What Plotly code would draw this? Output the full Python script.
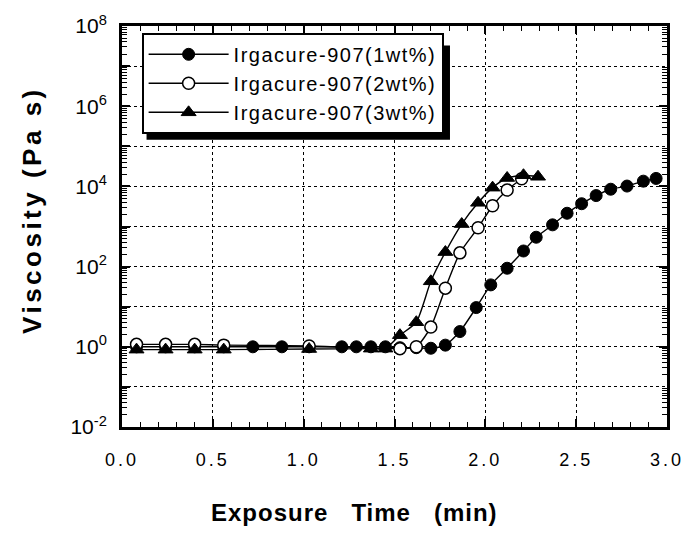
import numpy as np
import plotly.graph_objects as go

# Exposure time (min) and viscosity (Pa s)
t_1wt = [0.08, 0.24, 0.40, 0.56, 0.72, 0.88, 1.03, 1.21, 1.29, 1.37, 1.45, 1.53, 1.62,
         1.70, 1.78, 1.86, 1.95, 2.03, 2.12, 2.21, 2.28, 2.37, 2.45, 2.53, 2.61,
         2.69, 2.78, 2.87, 2.94]
v_1wt = [1.0, 1.0, 1.0, 1.0, 1.0, 1.0, 1.0, 1.0, 1.0, 1.0, 1.0, 0.95, 0.95,
         0.92, 1.1, 2.4, 9.5, 35, 91, 245, 540, 1100, 2140, 3700, 5900,
         8500, 10200, 13500, 15800]

t_2wt = [0.08, 0.24, 0.40, 0.56, 1.03, 1.53, 1.62, 1.70, 1.78, 1.86, 1.96, 2.04, 2.12, 2.20]
v_2wt = [1.15, 1.15, 1.15, 1.1, 1.05, 0.9, 1.0, 3.1, 29, 220, 930, 3300, 8100, 15500]

t_3wt = [0.08, 0.24, 0.40, 0.56, 1.03, 1.37, 1.45, 1.53, 1.62, 1.70, 1.78, 1.87,
         1.96, 2.04, 2.12, 2.21, 2.29]
v_3wt = [0.85, 0.85, 0.85, 0.85, 0.88, 0.9, 0.9, 1.95, 4.1, 43, 230, 1150,
         3900, 9300, 16200, 19000, 17400]

series_names = ["Irgacure-907(1wt%)", "Irgacure-907(2wt%)", "Irgacure-907(3wt%)"]

x_ticks = [0.0, 0.5, 1.0, 1.5, 2.0, 2.5, 3.0]
x_ticklabels = ["0.0", "0.5", "1.0", "1.5", "2.0", "2.5", "3.0"]
y_label_exponents = [-2, 0, 2, 4, 6, 8]
y_ticklabels = ["10<sup>-2</sup>", "10<sup>0</sup>", "10<sup>2</sup>",
                "10<sup>4</sup>", "10<sup>6</sup>", "10<sup>8</sup>"]
y_grid_only_exponents = [-1, 1, 3, 5, 7]

x_title = "Exposure\u00a0\u00a0\u00a0Time\u00a0\u00a0\u00a0(min)"
y_title = "Viscosity\u00a0(Pa\u00a0s)"

FONT = "Liberation Sans, Arial, sans-serif"


def spaced(text, px):
    return f"<span style='letter-spacing:{px}px'>{text}</span>"


fig = go.Figure()
line_style = dict(color="black", width=1.4, shape="spline", smoothing=0.6)
fig.add_trace(go.Scatter(x=t_1wt, y=v_1wt, mode="lines+markers", name=spaced(series_names[0], 1.5),
                         line=line_style,
                         marker=dict(symbol="circle", size=12, color="black",
                                     line=dict(color="black", width=1))))
fig.add_trace(go.Scatter(x=t_2wt, y=v_2wt, mode="lines+markers", name=spaced(series_names[1], 1.5),
                         line=line_style,
                         marker=dict(symbol="circle", size=12, color="white",
                                     line=dict(color="black", width=1.5))))
fig.add_trace(go.Scatter(x=t_3wt, y=v_3wt, mode="lines+markers", name=spaced(series_names[2], 1.5),
                         line=line_style,
                         marker=dict(symbol="triangle-up", size=13, color="black",
                                     line=dict(color="black", width=1))))

minor_y = [m * 10.0 ** e for e in range(-2, 8) for m in range(2, 10)]
grid_style = dict(showgrid=True, gridcolor="black", gridwidth=1.3, griddash="dot")

fig.update_xaxes(
    range=[0, 3], tickvals=x_ticks, ticktext=[spaced(s, 3) for s in x_ticklabels],
    showline=True, linecolor="black", linewidth=3, mirror="ticks",
    ticks="inside", ticklen=8, tickwidth=1.5, tickcolor="black",
    minor=dict(dtick=0.1, ticks="inside", ticklen=5, tickwidth=1.2, tickcolor="black", showgrid=False),
    zeroline=False, ticklabelstandoff=14,
    tickfont=dict(family=FONT, size=18, color="black"),
    **grid_style,
)
fig.update_layout(
    yaxis=dict(
        type="log", range=[-2, 8],
        tickvals=[10.0 ** e for e in y_label_exponents], ticktext=y_ticklabels,
        showline=True, linecolor="black", linewidth=3, mirror="ticks",
        ticks="inside", ticklen=8, tickwidth=1.5, tickcolor="black",
        minor=dict(tickvals=minor_y, ticks="inside", ticklen=5, tickwidth=1.2,
                   tickcolor="black", showgrid=False),
        zeroline=False, ticklabelstandoff=8,
        tickfont=dict(family=FONT, size=21, color="black"),
        **grid_style,
    ),
    yaxis2=dict(
        type="log", range=[-2, 8], overlaying="y", side="left", matches="y",
        tickvals=[10.0 ** e for e in y_grid_only_exponents],
        showticklabels=False, ticks="inside", ticklen=8, tickwidth=1.5, tickcolor="black",
        showline=False, zeroline=False, layer="below traces",
        **grid_style,
    ),
)
# invisible helper trace so the grid-only axis is drawn
fig.add_trace(go.Scatter(x=[t_1wt[0]], y=[v_1wt[0]], yaxis="y2", mode="markers",
                         marker=dict(opacity=0), showlegend=False, hoverinfo="skip"))

# axis titles placed as in the scanned figure
fig.add_annotation(text=spaced(x_title, 1), xref="paper", yref="paper",
                   x=(359 - 122) / 555, y=(427 - 514) / 409,
                   xanchor="center", yanchor="middle", showarrow=False,
                   font=dict(family=FONT, size=24, color="black", weight="bold"))
fig.add_annotation(text=spaced(y_title, 3.5), xref="paper", yref="paper",
                   x=(31 - 122) / 555, y=(427 - 206) / 409, textangle=-90,
                   xanchor="center", yanchor="middle", showarrow=False,
                   font=dict(family=FONT, size=26, color="black", weight="bold"))

# legend drop shadow (decoration behind the legend box)
fig.add_shape(type="rect", xref="paper", yref="paper",
              x0=(147 - 122) / 555, x1=(456 - 122) / 555,
              y0=(427 - 134) / 409, y1=(427 - 38) / 409,
              fillcolor="black", line=dict(width=0), layer="above")

fig.update_layout(
    width=696, height=534,
    margin=dict(l=122, r=19, t=18, b=107),
    paper_bgcolor="white", plot_bgcolor="white",
    showlegend=True,
    legend=dict(x=0.036, y=0.983, xanchor="left", yanchor="top",
                bgcolor="white", bordercolor="black", borderwidth=2,
                font=dict(family=FONT, size=20, color="black"),
                itemwidth=80, tracegroupgap=0),
    font=dict(family=FONT, color="black"),
)

fig.write_html("out.html")
